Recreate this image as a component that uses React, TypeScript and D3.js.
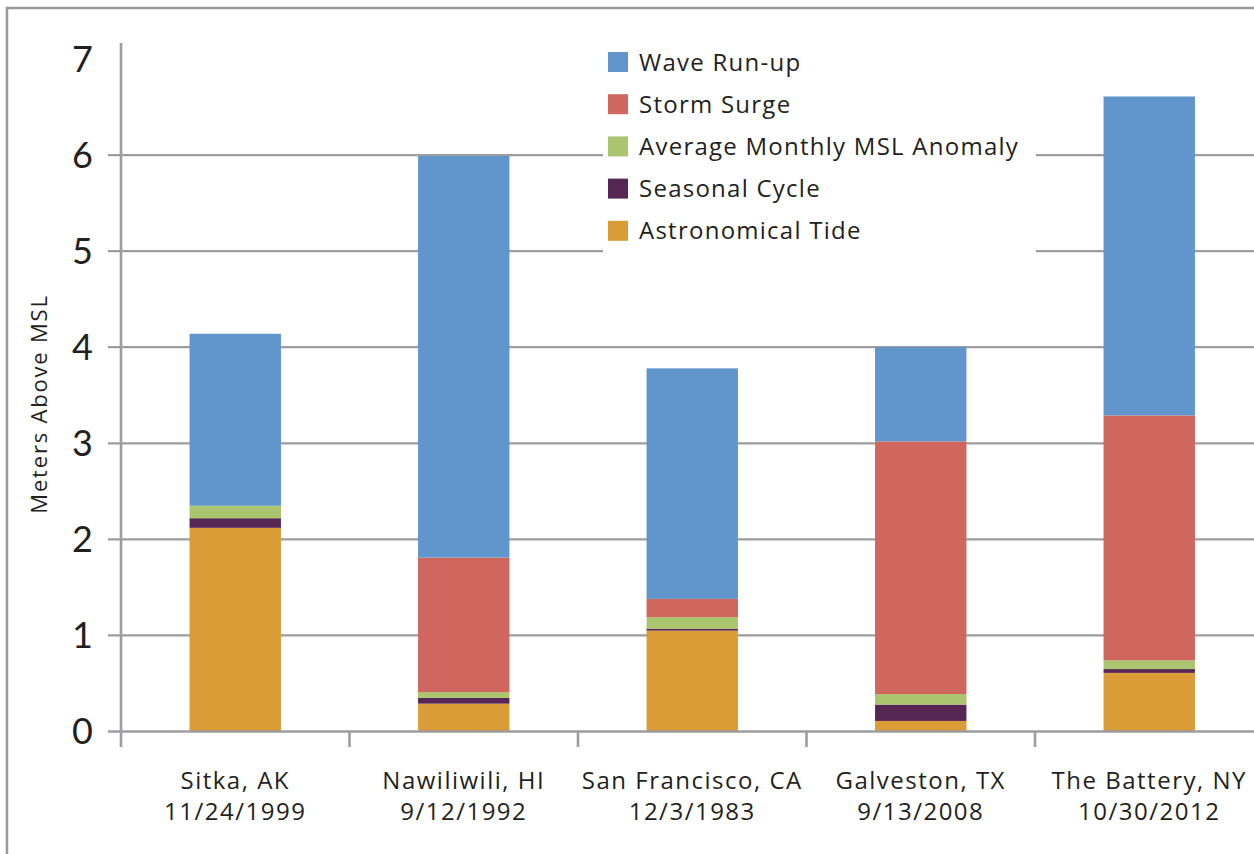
import React from "react";
import * as d3 from "d3";

const locations = ["Sitka, AK", "Nawiliwili, HI", "San Francisco, CA", "Galveston, TX", "The Battery, NY"];
const dates = ["11/24/1999", "9/12/1992", "12/3/1983", "9/13/2008", "10/30/2012"];

const seriesNames = ["Astronomical Tide", "Seasonal Cycle", "Average Monthly MSL Anomaly", "Storm Surge", "Wave Run-up"];
const astronomicalTide = [2.12, 0.29, 1.05, 0.11, 0.61];
const seasonalCycle = [0.10, 0.06, 0.02, 0.17, 0.04];
const msiAnomaly = [0.13, 0.06, 0.12, 0.11, 0.09];
const stormSurge = [0.0, 1.40, 0.19, 2.63, 2.55];
const waveRunup = [1.79, 4.18, 2.40, 0.98, 3.32];
const seriesColors = ["#DA9C36", "#562754", "#ABC46E", "#CF675E", "#6096CB"];
const yTicks = [0, 1, 2, 3, 4, 5, 6, 7];
const legendOrder = ["Wave Run-up", "Storm Surge", "Average Monthly MSL Anomaly", "Seasonal Cycle", "Astronomical Tide"];

export default function App() {
  const W = 1254, H = 854;
  const font = "'Open Sans', Lato, sans-serif";
  const tickFont = "Lato, 'Open Sans', sans-serif";
  const textColor = "#231f20";
  const gridColor = "#9d9da0";

  const rows = locations.map((loc, i) => ({
    loc,
    "Astronomical Tide": astronomicalTide[i],
    "Seasonal Cycle": seasonalCycle[i],
    "Average Monthly MSL Anomaly": msiAnomaly[i],
    "Storm Surge": stormSurge[i],
    "Wave Run-up": waveRunup[i],
  }));
  const stacked = d3.stack<any>().keys(seriesNames)(rows);

  const x = d3.scaleBand<string>().domain(locations).range([121, 1263.5]).paddingInner(0.6).paddingOuter(0.3);
  const y = d3.scaleLinear().domain([0, 7]).range([731.5, 59]);
  const color = d3.scaleOrdinal<string, string>().domain(seriesNames).range(seriesColors);
  const step = x.step();

  const legendX = 608, legendY0 = 62, legendDy = 42.2;

  return (
    <svg width={W} height={H} style={{ position: "absolute", left: 0, top: 0, display: "block" }}>
      <rect x={0} y={0} width={W} height={H} fill="#fff" />
      {/* frame */}
      <path d={`M7,${H + 5} V8 H${W + 5}`} fill="none" stroke="#9a9a9a" strokeWidth={2.5} />
      {/* gridlines */}
      {yTicks.filter((t) => t > 0 && t < 7).map((t) => (
        <line key={t} x1={108} x2={W} y1={y(t)} y2={y(t)} stroke={gridColor} strokeWidth={2.2} />
      ))}
      {/* bars */}
      {stacked.map((s) => (
        <g key={s.key} fill={color(s.key)}>
          {s.map((d, i) => (
            <rect key={i} x={x(locations[i])} width={x.bandwidth()} y={y(d[1])} height={Math.max(0, y(d[0]) - y(d[1]))} />
          ))}
        </g>
      ))}
      {/* x axis */}
      <line x1={108} x2={W} y1={y(0)} y2={y(0)} stroke={gridColor} strokeWidth={2.6} />
      <line x1={121} x2={121} y1={43} y2={747} stroke={gridColor} strokeWidth={2.6} />
      {locations.slice(1).map((loc) => (
        <line key={loc} x1={(x(loc) as number) - (step * 0.6) / 2} x2={(x(loc) as number) - (step * 0.6) / 2} y1={y(0)} y2={747} stroke={gridColor} strokeWidth={2.6} />
      ))}
      {/* y tick labels */}
      {yTicks.map((t) => (
        <text key={t} x={93} y={y(t)} dy="0.36em" textAnchor="end" fontFamily={tickFont} fontSize={36} fill={textColor}>{t}</text>
      ))}
      <text transform={`translate(47,${404}) rotate(-90)`} textAnchor="middle" fontFamily={font} fontSize={22} letterSpacing={1.8} fill={textColor}>Meters Above MSL</text>
      {/* category labels */}
      {locations.map((loc, i) => (
        <text key={loc} x={(x(loc) as number) + x.bandwidth() / 2} textAnchor="middle" fontFamily={font} fontSize={24} letterSpacing={1.5} fill={textColor}>
          <tspan x={(x(loc) as number) + x.bandwidth() / 2} y={789}>{loc}</tspan>
          <tspan x={(x(loc) as number) + x.bandwidth() / 2} y={820}>{dates[i]}</tspan>
        </text>
      ))}
      {/* legend */}
      <rect x={603} y={35} width={433} height={225} fill="#fff" />
      {legendOrder.map((name, i) => (
        <g key={name} transform={`translate(${legendX},${legendY0 + i * legendDy})`}>
          <rect x={0} y={-10} width={20} height={20} fill={color(name)} />
          <text x={31} y={0} dy="0.36em" fontFamily={font} fontSize={24} letterSpacing={1.25} fill={textColor}>{name}</text>
        </g>
      ))}
    </svg>
  );
}
